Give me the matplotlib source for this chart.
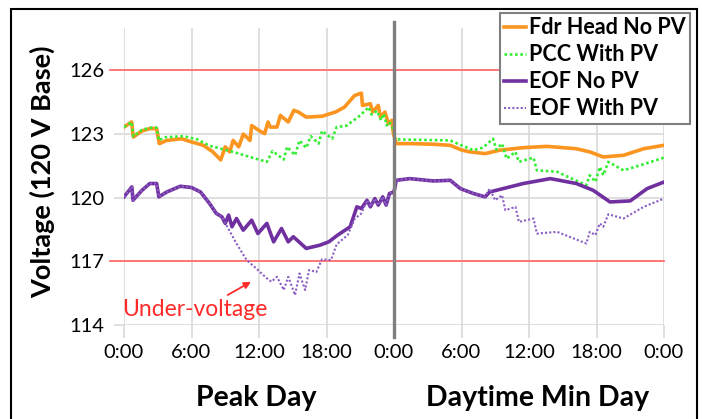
import matplotlib
matplotlib.use("Agg")
import matplotlib.pyplot as plt
from matplotlib.patches import Rectangle

plt.rcParams["font.family"] = ["Lato", "DejaVu Sans"]

# Feeder head voltage, no PV (hours over two days, volts)
fdr_hours = [0, 0.68, 0.83, 1.6, 2.3, 2.9, 3.14, 3.8, 5.1, 6.0, 7.05, 7.9,
             8.6, 9.0, 9.4, 9.7, 10.2, 10.6, 11.2, 11.35, 12.2, 12.5, 12.8,
             13.0, 13.6, 13.9, 14.6, 15.1, 15.5, 16.2, 17.6, 18.8, 19.6, 20.5,
             21.1, 21.2, 21.9, 22.1, 22.6, 22.8, 23.2, 23.5, 23.8, 23.95,
             24.2, 25.5, 27.5, 29.0, 30.0, 30.75, 32.1, 33.4, 35.5, 37.6,
             40.2, 41.4, 42.6, 44.4, 46.2, 48.0]
fdr_volts = [123.33, 123.57, 122.86, 123.15, 123.26, 123.26, 122.55, 122.7,
             122.78, 122.63, 122.47, 122.16, 121.78, 122.4, 122.16, 122.7,
             122.4, 123.0, 122.7, 123.4, 123.1, 123.02, 123.57, 123.33,
             123.33, 123.88, 123.57, 124.12, 124.04, 123.8, 123.84, 124.04,
             124.27, 124.82, 124.93, 124.35, 124.43, 124.04, 124.35, 123.8,
             124.04, 123.49, 123.65, 123.02,
             122.55, 122.55, 122.52, 122.47, 122.25, 122.16, 122.08, 122.24,
             122.36, 122.42, 122.31, 122.16, 121.92, 122.0, 122.31, 122.47]

# Point of common coupling, with PV
pcc_hours = [0, 0.68, 0.83, 1.6, 2.3, 2.9, 3.1, 3.6, 5.3, 6.5, 7.6, 9.7, 11.2,
             12.7, 13.2, 14.2, 14.5, 15.2, 15.6, 16.2, 16.6, 17.3, 17.6, 18.5,
             18.9, 19.8, 21.0, 21.75, 22.0, 22.5, 22.85, 23.1, 23.35, 23.6,
             23.95,
             24.1, 29.0, 30.0, 31.05, 31.9, 32.8, 33.1, 33.6, 34.0, 34.8, 35.1,
             36.4, 36.7, 38.5, 41.1, 41.4, 41.9, 42.3, 42.6, 43.05, 44.4, 45.9,
             48.0]
pcc_volts = [123.33, 123.57, 122.9, 123.2, 123.3, 123.3, 122.7, 122.85, 122.9,
             122.75, 122.45, 122.16, 121.92, 121.69, 122.2, 121.8, 122.4, 122.0,
             122.7, 122.35, 122.9, 122.55, 123.15, 122.78, 123.33, 123.4,
             123.88, 124.27, 123.92, 124.1, 123.65, 123.96, 123.41, 123.57,
             123.2,
             122.75, 122.7, 122.47, 122.24, 122.36, 122.78, 122.27, 122.55,
             121.84, 122.16, 121.69, 121.89, 121.29, 121.22, 120.59, 121.06,
             120.75, 121.45, 121.06, 121.69, 121.29, 121.53, 121.89]

# End of feeder, no PV
eof_hours = [0, 0.7, 0.8, 1.6, 2.3, 2.9, 3.1, 3.8, 5.0, 6.0, 6.8, 7.6, 8.2,
             8.7, 9.0, 9.3, 9.6, 10.0, 10.6, 11.35, 11.9, 12.7, 13.3, 14.0,
             14.6, 15.05, 16.2, 17.4, 18.2, 19.0, 20.1, 20.7, 21.1, 21.6, 21.9,
             22.3, 22.6, 23.0, 23.3, 23.6, 24.0,
             24.2, 25.4, 27.5, 29.0, 29.9, 31.05, 32.1, 32.5, 33.7, 35.5, 37.9,
             40.2, 41.7, 43.2, 45.0, 46.5, 48.0]
eof_volts = [120.04, 120.51, 119.88, 120.35, 120.67, 120.67, 120.04, 120.27,
             120.54, 120.48, 120.27, 119.73, 119.26, 119.1, 118.79, 119.18,
             118.63, 119.02, 118.47, 118.94, 118.31, 118.79, 117.92, 118.55,
             117.92, 118.16, 117.61, 117.76, 117.92, 118.24, 118.63, 119.57,
             119.49, 119.88, 119.57, 119.96, 119.65, 120.04, 119.65, 120.2,
             120.27,
             120.82, 120.9, 120.79, 120.82, 120.43, 120.2, 120.04, 120.27,
             120.43, 120.67, 120.9, 120.67, 120.35, 119.8, 119.85, 120.43,
             120.74]

# End of feeder, with PV
eofpv_hours = [0, 0.7, 0.8, 1.6, 2.3, 2.9, 3.1, 3.8, 5.0, 6.0, 6.8, 7.6, 8.2,
               8.7, 9.1, 10.0, 10.9, 11.6, 12.7, 13.1, 13.6, 14.2, 14.6, 15.2,
               15.6, 16.1, 16.45, 17.1, 17.6, 18.4, 18.9, 19.9, 20.5, 21.1,
               21.6, 21.9, 22.3, 22.6, 23.0, 23.3, 23.6, 24.0,
               24.2, 25.4, 27.5, 29.0, 29.9, 31.05, 32.1, 32.5, 33.0, 33.6,
               33.9, 34.8, 35.1, 36.4, 36.7, 38.5, 41.1, 41.4, 41.9, 42.3, 42.6,
               43.05, 44.4, 46.2, 48.0]
eofpv_volts = [120.04, 120.51, 119.88, 120.35, 120.67, 120.67, 120.04, 120.27,
               120.54, 120.48, 120.27, 119.73, 119.26, 119.1, 118.71, 117.84,
               117.06, 116.74, 116.2, 116.04, 116.27, 115.65, 116.27, 115.41,
               116.43, 115.65, 116.59, 116.5, 117.1, 117.06, 117.8, 118.25,
               119.0, 119.26, 119.88, 119.57, 119.96, 119.65, 120.04, 119.65,
               120.2, 120.27,
               120.82, 120.9, 120.79, 120.82, 120.43, 120.2, 120.04, 120.43,
               119.88, 120.12, 119.41, 119.57, 118.86, 119.02, 118.31, 118.39,
               117.84, 118.39, 118.24, 118.79, 118.63, 119.22, 119.02, 119.57,
               119.96]

x_ticks = [0, 6, 12, 18, 24, 30, 36, 42, 48]
x_labels = ["0:00", "6:00", "12:00", "18:00", "0:00", "6:00", "12:00", "18:00", "0:00"]
y_ticks = [114, 117, 120, 123, 126]
limits = [126, 117]

W, H = 702, 419
fig = plt.figure(figsize=(W / 100, H / 100), dpi=100)
ax = fig.add_axes([124 / W, 1 - 325 / H, 540 / W, 297 / H])
ax.set_xlim(0, 48)
ax.set_ylim(114, 128)

grid_c = "#d9d9d9"
ax.set_xticks(x_ticks)
ax.set_xticklabels(x_labels, fontsize=14.5)
ax.set_yticks(y_ticks)
ax.set_yticklabels([str(v) for v in y_ticks], fontsize=14.5)
ax.tick_params(axis="x", length=9, color=grid_c, width=1.2, pad=5)
ax.tick_params(axis="y", length=7, color=grid_c, width=1.2, pad=7)
ax.grid(True, color=grid_c, lw=1.2)
ax.set_axisbelow(True)
for s in ax.spines.values():
    s.set_visible(False)

# voltage limits
for v in limits:
    ax.plot([-1.25, 48], [v, v], color="#ff6f6f", lw=1.3, clip_on=False, zorder=2)

# day separator
ax.axvline(24, ymin=-0.04, ymax=1.02, color="#7f7f7f", lw=2.4, clip_on=False, zorder=5)

ax.plot(fdr_hours, fdr_volts, color="#fb9520", lw=2.6, label="Fdr Head No PV", zorder=4)
ax.plot(pcc_hours, pcc_volts, color="#33ee33", lw=1.9, ls=(0, (1, 1)),
        label="PCC With PV", zorder=4)
ax.plot(eof_hours, eof_volts, color="#7030a0", lw=2.6, label="EOF No PV", zorder=4)
ax.plot(eofpv_hours, eofpv_volts, color="#8a5cc4", lw=1.5, ls=(0, (1, 1)),
        label="EOF With PV", zorder=4)

ax.text(-0.2, 114.75, "Under-voltage", color="#ff2a2a", fontsize=16.5,
        ha="left", va="center")
ax.annotate("", xy=(11.5, 116.1), xytext=(9.0, 115.35),
            arrowprops=dict(arrowstyle="-|>", color="#ff2a2a", lw=1.3,
                            mutation_scale=10))

leg = ax.legend(loc="upper right", bbox_to_anchor=(690 / W, 1 - 13 / H),
                bbox_transform=fig.transFigure, borderaxespad=0,
                fancybox=False, framealpha=1, edgecolor="#7f7f7f",
                handlelength=1.0, handletextpad=0.15, labelspacing=0.28,
                borderpad=0.2, prop={"weight": "bold", "size": 15.5})
leg.get_frame().set_linewidth(1.5)
leg.set_zorder(10)

fig.text(42 / W, 1 - 172 / H, "Voltage (120 V Base)", rotation=90,
         fontsize=19.5, fontweight="bold", ha="center", va="center")
fig.text(256 / W, 1 - 398 / H, "Peak Day", fontsize=20.5, fontweight="bold",
         ha="center", va="center")
fig.text(538 / W, 1 - 398 / H, "Daytime Min Day", fontsize=20.5,
         fontweight="bold", ha="center", va="center")

fig.patches.append(Rectangle((11 / W, -0.05), 686 / W, 1.05 - 9 / H,
                             transform=fig.transFigure, fill=False,
                             edgecolor="black", lw=1.5))

fig.savefig("out.png", dpi=100)
